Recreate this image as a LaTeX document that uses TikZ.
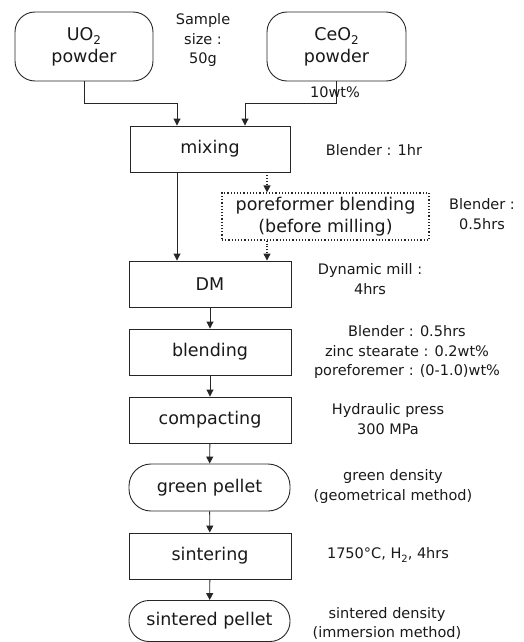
\documentclass[tikz,border=0pt]{standalone}
\usepackage{fontspec}
\setmainfont{DejaVu Sans}
\usetikzlibrary{arrows.meta}
\newcommand{\subtwo}{\raisebox{-0.4ex}{\fontsize{12}{12}\selectfont 2}}
\newcommand{\notesub}{\raisebox{-0.4ex}{\fontsize{10}{10}\selectfont 2}}
\tikzset{
  every node/.style={text=black!90},
  boxfont/.style={font=\fontsize{17.5}{22}\selectfont},
  notefont/.style={font=\fontsize{14.5}{19.5}\selectfont, align=center, inner sep=0pt},
  procbox/.style={draw=black!85, line width=0.9pt, boxfont, align=center, minimum width=161pt, minimum height=46pt, inner sep=0pt},
  roundbox/.style={procbox, rounded corners=20pt},
  dotbox/.style={draw=black!85, line width=1.2pt, dotted, boxfont, align=center, minimum width=207pt, minimum height=47pt, inner sep=0pt},
  arr/.style={draw=black!85, line width=0.9pt, -{Triangle[length=7pt,width=7pt]}},
  darr/.style={arr, dotted, line width=1.2pt}
}
\begin{document}
\begin{tikzpicture}[x=1pt,y=-1pt]
\useasboundingbox (0,0) rectangle (523,642);
% source boxes
\node[roundbox, minimum width=138pt, minimum height=69pt] (uo) at (84,46.5) {UO\subtwo\\powder};
\node[roundbox, minimum width=139pt, minimum height=69pt] (ceo) at (336.5,46.5) {CeO\subtwo\\powder};
\node[notefont] (sample) at (203,40) {Sample\\size :\\50g};
% process boxes
\node[procbox, minimum width=160pt] (mix) at (210,149) {mixing};
\node[dotbox] (pore) at (325.5,216.5) {poreformer blending\\(before milling)};
\node[procbox, minimum width=162pt] (dm) at (210,284) {DM};
\node[procbox, minimum width=162pt] (blend) at (210,352) {blending};
\node[procbox, minimum width=162pt] (comp) at (210,420) {compacting};
\node[roundbox, minimum width=161pt, minimum height=47pt, rounded corners=22pt] (green) at (209.5,487.5) {green pellet};
\node[procbox, minimum width=162pt] (sint) at (210,556) {sintering};
\node[roundbox, minimum width=161pt, minimum height=41pt, rounded corners=20pt] (sp) at (209.5,621) {sintered pellet};
% junction coordinates
\coordinate (ua) at (177,103);
\coordinate (cb) at (245,103);
\coordinate (dx) at (267,0);
% connectors
\draw[arr] (uo.south) |- (ua) -- (ua |- mix.north);
\draw[arr] (ceo.south) |- (cb) -- (cb |- mix.north);
\draw[arr] (mix.south -| ua) -- (dm.north -| ua);
\draw[darr] (mix.south -| dx) -- (pore.north -| dx);
\draw[darr] (pore.south -| dx) -- (dm.north -| dx);
\draw[arr] (dm) -- (blend);
\draw[arr] (blend) -- (comp);
\draw[arr] (comp) -- (green);
\draw[arr] (green) -- (sint);
\draw[arr] (sint) -- (sp);
% annotations
\node[notefont] (wt) at (335,92) {10wt\%};
\node[notefont] (n1) at (374,150) {Blender : 1hr};
\node[notefont] (n2) at (482,214) {Blender :\\0.5hrs};
\node[notefont] (n3) at (370,279) {Dynamic mill :\\4hrs};
\node[notefont] (n4) at (407,352) {Blender : 0.5hrs\\zinc stearate : 0.2wt\%\\poreforemer : (0-1.0)wt\%};
\node[notefont] (n5) at (388,419) {Hydraulic press\\300 MPa};
\node[notefont] (n6) at (393,486.5) {green density\\(geometrical method)};
\node[notefont] (n7) at (388,555) {1750°C, H\notesub, 4hrs};
\node[notefont] (n8) at (387,623.5) {sintered density\\(immersion method)};
\end{tikzpicture}
\end{document}
